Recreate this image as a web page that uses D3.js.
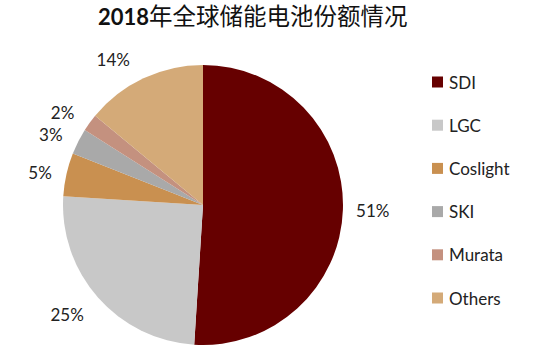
<!DOCTYPE html>
<html><head><meta charset="utf-8">
<script src="https://cdn.jsdelivr.net/npm/d3@7"></script>
<style>body{margin:0;background:#fff}svg{display:block}</style>
</head><body>
<script>
const categories = ["SDI","LGC","Coslight","SKI","Murata","Others"];
const values = [51,25,5,3,2,14];
const labels = ["51%","25%","5%","3%","2%","14%"];
const colors = ["#660000","#C8C8C8","#C99050","#A9A9A9","#C4917F","#D4AA78"];
const titleYear = "2018";
const titleRest = "年全球储能电池份额情况";

const W=535,H=354;
const svg=d3.select("body").append("svg").attr("width",W).attr("height",H);
const t=svg.append("text").attr("x",98).attr("y",25).attr("fill","#111");
t.append("tspan").attr("font-family","Lato, sans-serif").attr("font-weight","bold").attr("font-size",22).text(titleYear);
t.append("tspan").attr("font-family","'Noto Sans CJK SC', sans-serif").attr("font-weight","normal").attr("font-size",23.5).text(titleRest);

const cx=203,cy=205,r=140;
const pie=d3.pie().sort(null).value(d=>d)(values);
const arc=d3.arc().innerRadius(0).outerRadius(r);
const g=svg.append("g").attr("transform",`translate(${cx},${cy})`);
g.selectAll("path").data(pie).join("path").attr("d",arc).attr("fill",(d,i)=>colors[i]);

const labelR=[1.17,1.17,1.2,1.22,1.24,1.17];
const labelAdj=[[6,0],[-13,1],[1,4],[0,7],[0,10],[-20,3]];
g.selectAll("text.lbl").data(pie).join("text").attr("class","lbl")
  .attr("x",(d,i)=>Math.sin((d.startAngle+d.endAngle)/2)*r*labelR[i]+labelAdj[i][0])
  .attr("y",(d,i)=>-Math.cos((d.startAngle+d.endAngle)/2)*r*labelR[i]+labelAdj[i][1])
  .attr("text-anchor","middle").attr("dominant-baseline","central")
  .attr("font-family","Lato, sans-serif").attr("font-size",17).attr("fill","#222")
  .text((d,i)=>labels[i]);

const leg=svg.append("g");
const y=d3.scalePoint().domain(categories).range([82,298]);
categories.forEach((c,i)=>{
  leg.append("rect").attr("x",432).attr("y",y(c)-5.5).attr("width",11).attr("height",11).attr("fill",colors[i]);
  leg.append("text").attr("x",449).attr("y",y(c)).attr("dominant-baseline","central")
    .attr("font-family","Lato, sans-serif").attr("font-size",17).attr("fill","#222").text(c);
});
</script>
</body></html>
